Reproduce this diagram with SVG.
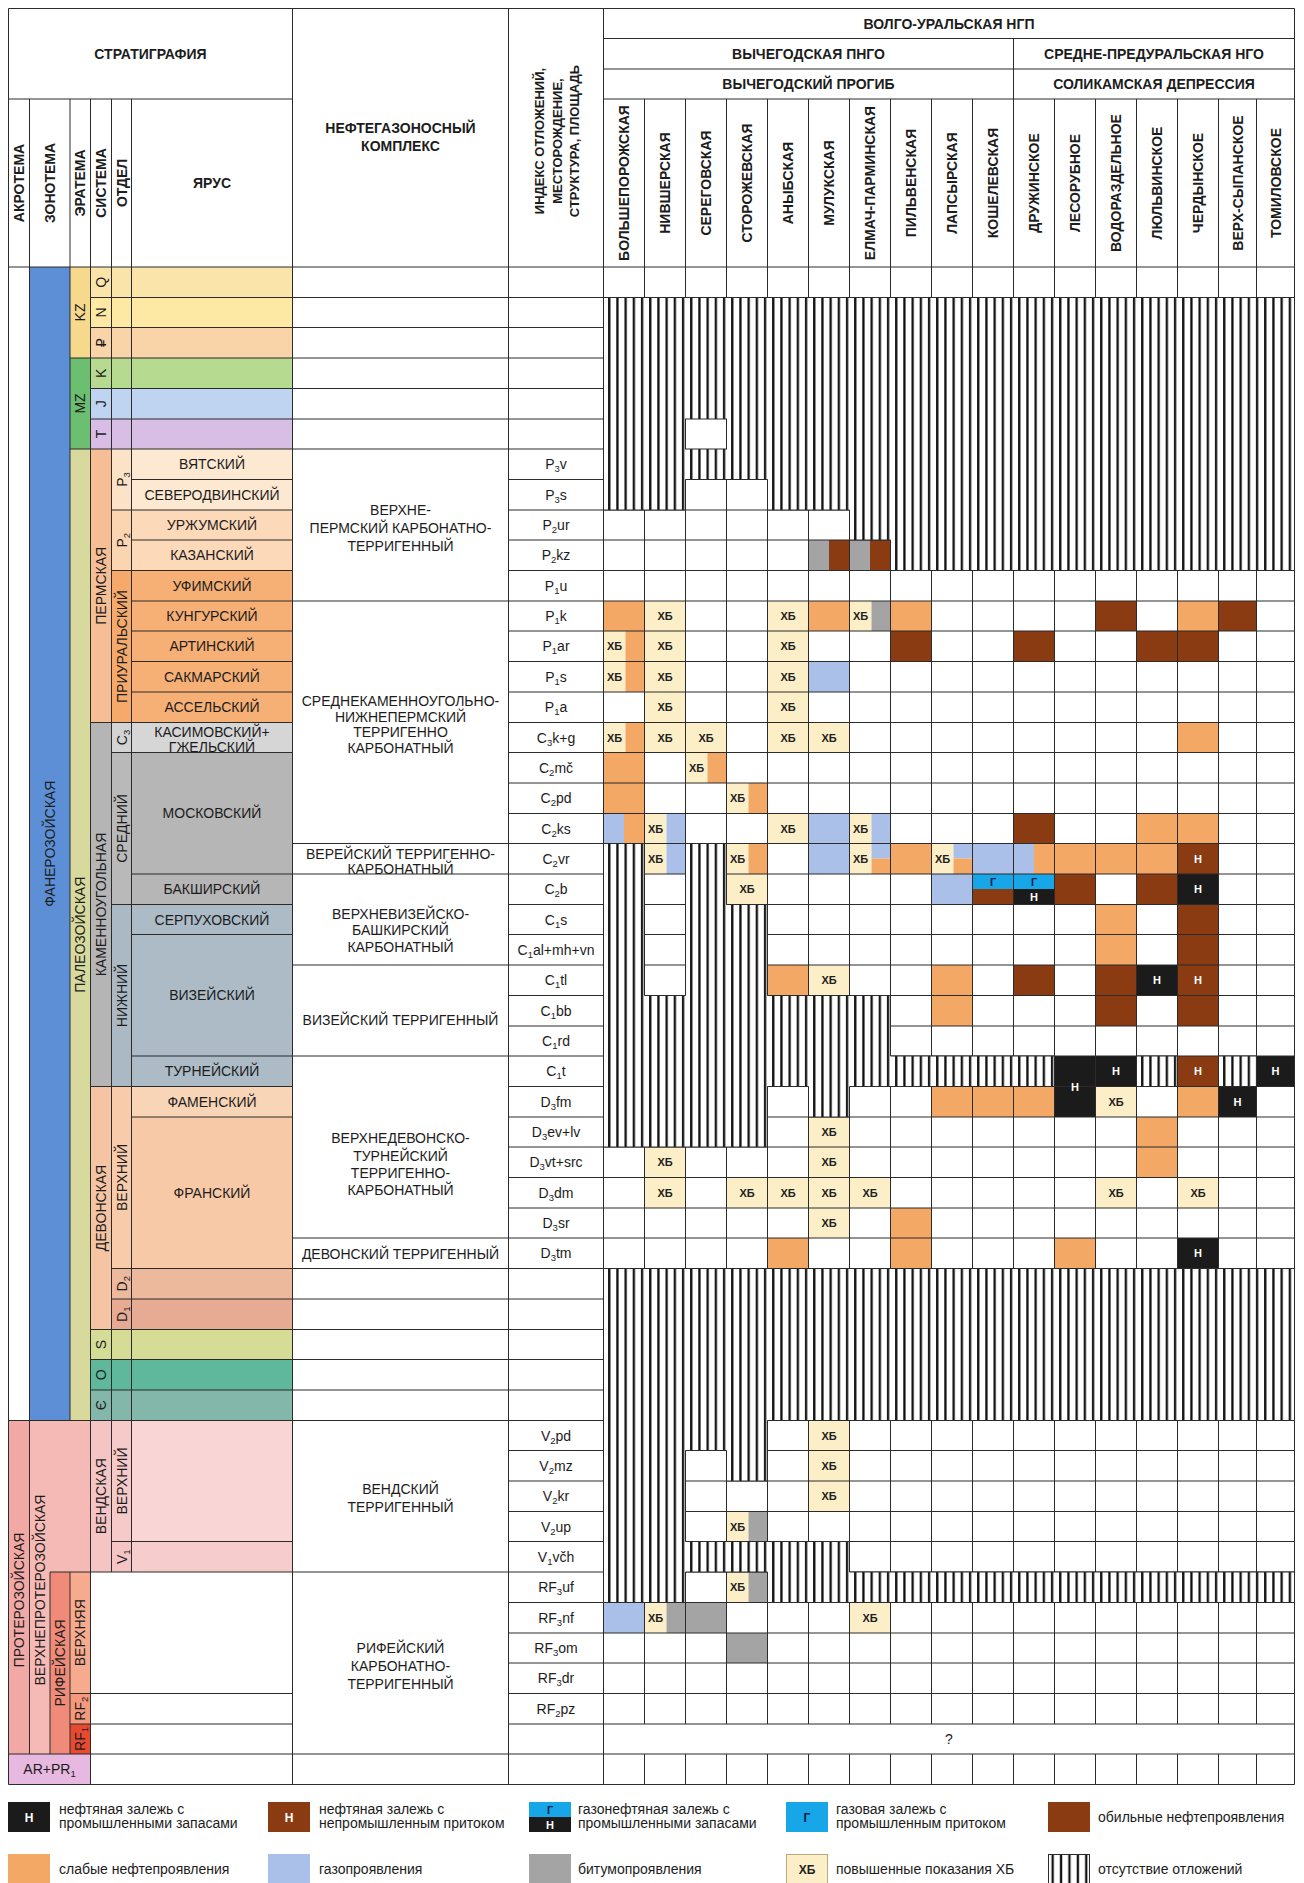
<svg xmlns="http://www.w3.org/2000/svg" width="1304" height="1883" viewBox="0 0 1304 1883">
<defs>
<style>
.t{font-family:"Liberation Sans",Arial,"DejaVu Sans",sans-serif;font-size:14px;fill:#1c1c1c}
.c{text-anchor:middle}
.bd{font-weight:bold}
.s{font-size:9.5px}
.xb{font-family:"Liberation Sans",Arial,sans-serif;font-size:11px;font-weight:bold;text-anchor:middle;fill:#222}
.nw{font-family:"Liberation Sans",Arial,sans-serif;font-size:11px;font-weight:bold;text-anchor:middle;fill:#fff}
.gd{font-family:"Liberation Sans",Arial,sans-serif;font-size:11px;font-weight:bold;text-anchor:middle;fill:#15204a}
.ln{fill:none;stroke:#2b2b2b;stroke-width:1}
.o{fill:#f4a865}.b{fill:#8b3b12}.k{fill:#1b1b1b}.l{fill:#aac0e9}.g{fill:#a4a4a4}.x{fill:#fcefc8}.cy{fill:#17a6e8}
.ht{fill:url(#hatch);stroke:#2b2b2b;stroke-width:1}
</style>
<pattern id="hatch" patternUnits="userSpaceOnUse" x="603.5" y="0" width="8.2" height="20"><rect width="8.2" height="20" fill="#fff"/><rect x="4.6" y="0" width="2.3" height="20" fill="#111"/></pattern>
<pattern id="hatchL" patternUnits="userSpaceOnUse" x="1048" y="0" width="8.4" height="20"><rect width="8.4" height="20" fill="#fff"/><rect x="3.5" y="0" width="2.3" height="20" fill="#111"/></pattern>
</defs>
<rect width="1304" height="1883" fill="#fff"/>

<g id="strat-fills">
<rect x="29.5" y="267" width="40.5" height="1153.5" fill="#5d8fd6"/>
<rect x="70" y="267" width="20.5" height="91" fill="#f6d98c"/>
<rect x="70" y="358" width="20.5" height="91" fill="#6cbf70"/>
<rect x="70" y="449" width="20.5" height="971.5" fill="#d7d99d"/>
<rect x="90.5" y="267" width="202" height="30.5" fill="#fae4a9"/>
<rect x="90.5" y="297.5" width="202" height="30" fill="#fde9a3"/>
<rect x="90.5" y="327.5" width="202" height="30.5" fill="#fad4a9"/>
<rect x="90.5" y="358" width="202" height="30.5" fill="#b6da90"/>
<rect x="90.5" y="388.5" width="202" height="30.5" fill="#bfd4f0"/>
<rect x="90.5" y="419" width="202" height="30" fill="#d8bde4"/>
<rect x="90.5" y="449" width="21" height="273.5" fill="#f5be94"/>
<rect x="111.5" y="449" width="20" height="61" fill="#fce2c6"/>
<rect x="111.5" y="510" width="20" height="60.5" fill="#fbd5b1"/>
<rect x="111.5" y="570.5" width="20" height="152" fill="#f5aa6c"/>
<rect x="131.5" y="449" width="161" height="61" fill="#fde8d2"/>
<rect x="131.5" y="510" width="161" height="60.5" fill="#fcd9b9"/>
<rect x="131.5" y="570.5" width="161" height="152" fill="#f6b075"/>
<rect x="90.5" y="722.5" width="21" height="364" fill="#b5b5b5"/>
<rect x="111.5" y="722.5" width="20" height="30" fill="#d3d3d3"/>
<rect x="131.5" y="722.5" width="161" height="30" fill="#d6d6d6"/>
<rect x="111.5" y="752.5" width="20" height="152" fill="#b9b9b9"/>
<rect x="131.5" y="752.5" width="161" height="152" fill="#b6b6b6"/>
<rect x="111.5" y="904.5" width="20" height="182" fill="#aab9c3"/>
<rect x="131.5" y="904.5" width="161" height="182" fill="#acbbc6"/>
<rect x="90.5" y="1086.5" width="21" height="243" fill="#f5c4a2"/>
<rect x="111.5" y="1086.5" width="20" height="182" fill="#f8cbab"/>
<rect x="131.5" y="1086.5" width="161" height="30.5" fill="#f9d5b7"/>
<rect x="131.5" y="1117" width="161" height="151.5" fill="#f8c9a7"/>
<rect x="111.5" y="1268.5" width="181" height="30.5" fill="#ecb99d"/>
<rect x="111.5" y="1299" width="181" height="30.5" fill="#e7aa92"/>
<rect x="90.5" y="1329.5" width="202" height="30" fill="#d4dc96"/>
<rect x="90.5" y="1359.5" width="202" height="30.5" fill="#5fb89c"/>
<rect x="90.5" y="1390" width="202" height="30.5" fill="#83b7a9"/>
<rect x="8.5" y="1420.5" width="21" height="333.5" fill="#f2a9a6"/>
<rect x="29.5" y="1420.5" width="61" height="151.5" fill="#f6bab6"/>
<rect x="29.5" y="1572" width="20.5" height="182" fill="#f6bab6"/>
<rect x="90.5" y="1420.5" width="21" height="151.5" fill="#f5c4c4"/>
<rect x="111.5" y="1420.5" width="20" height="121" fill="#f7caca"/>
<rect x="111.5" y="1541.5" width="20" height="30.5" fill="#f5c4c4"/>
<rect x="131.5" y="1420.5" width="161" height="121" fill="#f9d5d5"/>
<rect x="131.5" y="1541.5" width="161" height="30.5" fill="#f7cccc"/>
<rect x="50" y="1572" width="20" height="182" fill="#ef8b78"/>
<rect x="70" y="1572" width="20.5" height="121.5" fill="#f6aa8e"/>
<rect x="70" y="1693.5" width="20.5" height="30.5" fill="#f4997c"/>
<rect x="70" y="1724" width="20.5" height="30" fill="#e84a31"/>
<rect x="8.5" y="1754" width="82" height="30.5" fill="#e7b9e1"/>
</g>

<g id="cell-fills">
<rect class="g" x="808.5" y="540" width="20.5" height="30.5"/><rect class="b" x="829" y="540" width="20.5" height="30.5"/>
<rect class="g" x="849.5" y="540" width="20.5" height="30.5"/><rect class="b" x="870" y="540" width="20.5" height="30.5"/>
<rect class="o" x="603.5" y="601" width="41" height="30"/><rect class="x" x="644.5" y="601" width="41" height="30"/><rect class="x" x="767.5" y="601" width="41" height="30"/><rect class="o" x="808.5" y="601" width="41" height="30"/><rect class="x" x="849.5" y="601" width="22" height="30"/><rect class="g" x="871.5" y="601" width="19" height="30"/><rect class="o" x="890.5" y="601" width="41" height="30"/><rect class="b" x="1095.5" y="601" width="41" height="30"/><rect class="o" x="1177.5" y="601" width="41" height="30"/><rect class="b" x="1218.5" y="601" width="38" height="30"/>
<rect class="x" x="603.5" y="631" width="22" height="30.5"/><rect class="o" x="625.5" y="631" width="19" height="30.5"/><rect class="x" x="644.5" y="631" width="41" height="30.5"/><rect class="x" x="767.5" y="631" width="41" height="30.5"/><rect class="b" x="890.5" y="631" width="41" height="30.5"/><rect class="b" x="1013.5" y="631" width="41" height="30.5"/><rect class="b" x="1136.5" y="631" width="41" height="30.5"/><rect class="b" x="1177.5" y="631" width="41" height="30.5"/>
<rect class="x" x="603.5" y="661.5" width="22" height="30.5"/><rect class="o" x="625.5" y="661.5" width="19" height="30.5"/><rect class="x" x="644.5" y="661.5" width="41" height="30.5"/><rect class="x" x="767.5" y="661.5" width="41" height="30.5"/><rect class="l" x="808.5" y="661.5" width="41" height="30.5"/>
<rect class="x" x="644.5" y="692" width="41" height="30.5"/><rect class="x" x="767.5" y="692" width="41" height="30.5"/>
<rect class="x" x="603.5" y="722.5" width="22" height="30"/><rect class="o" x="625.5" y="722.5" width="19" height="30"/><rect class="x" x="644.5" y="722.5" width="41" height="30"/><rect class="x" x="685.5" y="722.5" width="41" height="30"/><rect class="x" x="767.5" y="722.5" width="41" height="30"/><rect class="x" x="808.5" y="722.5" width="41" height="30"/><rect class="o" x="1177.5" y="722.5" width="41" height="30"/>
<rect class="o" x="603.5" y="752.5" width="41" height="30.5"/><rect class="x" x="685.5" y="752.5" width="22" height="30.5"/><rect class="o" x="707.5" y="752.5" width="19" height="30.5"/>
<rect class="o" x="603.5" y="783" width="41" height="30.5"/><rect class="x" x="726.5" y="783" width="22" height="30.5"/><rect class="o" x="748.5" y="783" width="19" height="30.5"/>
<rect class="l" x="603.5" y="813.5" width="20.5" height="30"/><rect class="o" x="624" y="813.5" width="20.5" height="30"/><rect class="x" x="644.5" y="813.5" width="22" height="30"/><rect class="l" x="666.5" y="813.5" width="19" height="30"/><rect class="x" x="767.5" y="813.5" width="41" height="30"/><rect class="l" x="808.5" y="813.5" width="41" height="30"/><rect class="x" x="849.5" y="813.5" width="22" height="30"/><rect class="l" x="871.5" y="813.5" width="19" height="30"/><rect class="b" x="1013.5" y="813.5" width="41" height="30"/><rect class="o" x="1136.5" y="813.5" width="41" height="30"/><rect class="o" x="1177.5" y="813.5" width="41" height="30"/>
<rect class="x" x="644.5" y="843.5" width="22" height="30.5"/><rect class="l" x="666.5" y="843.5" width="19" height="30.5"/><rect class="x" x="726.5" y="843.5" width="22" height="30.5"/><rect class="o" x="748.5" y="843.5" width="19" height="30.5"/><rect class="l" x="808.5" y="843.5" width="41" height="30.5"/><rect class="x" x="849.5" y="843.5" width="22" height="30.5"/><rect class="l" x="871.5" y="843.5" width="19" height="15"/><rect class="o" x="871.5" y="858.5" width="19" height="15.5"/><rect class="o" x="890.5" y="843.5" width="41" height="30.5"/><rect class="x" x="931.5" y="843.5" width="22" height="30.5"/><rect class="l" x="953.5" y="843.5" width="19" height="15"/><rect class="o" x="953.5" y="858.5" width="19" height="15.5"/><rect class="l" x="972.5" y="843.5" width="41" height="30.5"/><rect class="l" x="1013.5" y="843.5" width="20.5" height="30.5"/><rect class="o" x="1034" y="843.5" width="20.5" height="30.5"/><rect class="o" x="1054.5" y="843.5" width="41" height="30.5"/><rect class="o" x="1095.5" y="843.5" width="41" height="30.5"/><rect class="o" x="1136.5" y="843.5" width="41" height="30.5"/><rect class="b" x="1177.5" y="843.5" width="41" height="30.5"/>
<rect class="x" x="726.5" y="874" width="41" height="30.5"/><rect class="l" x="931.5" y="874" width="41" height="30.5"/><rect class="cy" x="972.5" y="874" width="41" height="15"/><rect class="b" x="972.5" y="889" width="41" height="15.5"/><rect class="cy" x="1013.5" y="874" width="41" height="15"/><rect class="k" x="1013.5" y="889" width="41" height="15.5"/><rect class="b" x="1054.5" y="874" width="41" height="30.5"/><rect class="b" x="1136.5" y="874" width="41" height="30.5"/><rect class="k" x="1177.5" y="874" width="41" height="30.5"/>
<rect class="o" x="1095.5" y="904.5" width="41" height="30"/><rect class="b" x="1177.5" y="904.5" width="41" height="30"/>
<rect class="o" x="1095.5" y="934.5" width="41" height="30.5"/><rect class="b" x="1177.5" y="934.5" width="41" height="30.5"/>
<rect class="o" x="767.5" y="965" width="41" height="30.5"/><rect class="x" x="808.5" y="965" width="41" height="30.5"/><rect class="o" x="931.5" y="965" width="41" height="30.5"/><rect class="b" x="1013.5" y="965" width="41" height="30.5"/><rect class="b" x="1095.5" y="965" width="41" height="30.5"/><rect class="k" x="1136.5" y="965" width="41" height="30.5"/><rect class="b" x="1177.5" y="965" width="41" height="30.5"/>
<rect class="o" x="931.5" y="995.5" width="41" height="30.5"/><rect class="b" x="1095.5" y="995.5" width="41" height="30.5"/><rect class="b" x="1177.5" y="995.5" width="41" height="30.5"/>
<rect class="k" x="1054.5" y="1056" width="41" height="61"/><rect class="k" x="1095.5" y="1056" width="41" height="30.5"/><rect class="b" x="1177.5" y="1056" width="41" height="30.5"/><rect class="k" x="1256.5" y="1056" width="38" height="30.5"/>
<rect class="o" x="931.5" y="1086.5" width="41" height="30.5"/><rect class="o" x="972.5" y="1086.5" width="41" height="30.5"/><rect class="o" x="1013.5" y="1086.5" width="41" height="30.5"/><rect class="x" x="1095.5" y="1086.5" width="41" height="30.5"/><rect class="o" x="1177.5" y="1086.5" width="41" height="30.5"/><rect class="k" x="1218.5" y="1086.5" width="38" height="30.5"/>
<rect class="x" x="808.5" y="1117" width="41" height="30"/><rect class="o" x="1136.5" y="1117" width="41" height="30"/>
<rect class="x" x="644.5" y="1147" width="41" height="30.5"/><rect class="x" x="808.5" y="1147" width="41" height="30.5"/><rect class="o" x="1136.5" y="1147" width="41" height="30.5"/>
<rect class="x" x="644.5" y="1177.5" width="41" height="30.5"/><rect class="x" x="726.5" y="1177.5" width="41" height="30.5"/><rect class="x" x="767.5" y="1177.5" width="41" height="30.5"/><rect class="x" x="808.5" y="1177.5" width="41" height="30.5"/><rect class="x" x="849.5" y="1177.5" width="41" height="30.5"/><rect class="x" x="1095.5" y="1177.5" width="41" height="30.5"/><rect class="x" x="1177.5" y="1177.5" width="41" height="30.5"/>
<rect class="x" x="808.5" y="1208" width="41" height="30"/><rect class="o" x="890.5" y="1208" width="41" height="30"/>
<rect class="o" x="767.5" y="1238" width="41" height="30.5"/><rect class="o" x="890.5" y="1238" width="41" height="30.5"/><rect class="o" x="1054.5" y="1238" width="41" height="30.5"/><rect class="k" x="1177.5" y="1238" width="41" height="30.5"/>
<rect class="x" x="808.5" y="1420.5" width="41" height="30"/><rect class="x" x="808.5" y="1450.5" width="41" height="30.5"/><rect class="x" x="808.5" y="1481" width="41" height="30.5"/>
<rect class="x" x="726.5" y="1511.5" width="22" height="30"/><rect class="g" x="748.5" y="1511.5" width="19" height="30"/>
<rect class="x" x="726.5" y="1572" width="22" height="30.5"/><rect class="g" x="748.5" y="1572" width="19" height="30.5"/>
<rect class="l" x="603.5" y="1602.5" width="41" height="30.5"/><rect class="x" x="644.5" y="1602.5" width="22" height="30.5"/><rect class="g" x="666.5" y="1602.5" width="19" height="30.5"/><rect class="g" x="685.5" y="1602.5" width="41" height="30.5"/><rect class="x" x="849.5" y="1602.5" width="41" height="30.5"/>
<rect class="g" x="726.5" y="1633" width="41" height="30"/>
</g>

<g id="grid">
<path class="ln" d="M8.5 8.5H1294.5M8.5 99H292.5M603.5 38.5H1294.5M603.5 69H1294.5M603.5 99H1294.5M8.5 267H1294.5
M90.5 297.5H1294.5M90.5 327.5H1294.5M70 358H1294.5M90.5 388.5H1294.5M90.5 419H1294.5M70 449H1294.5
M131.5 479.5H292.5M508.5 479.5H1294.5M111.5 510H292.5M508.5 510H1294.5M131.5 540H292.5M508.5 540H1294.5M111.5 570.5H292.5M508.5 570.5H1294.5
M131.5 601H1294.5M131.5 631H292.5M508.5 631H1294.5M131.5 661.5H292.5M508.5 661.5H1294.5M131.5 692H292.5M508.5 692H1294.5
M90.5 722.5H292.5M508.5 722.5H1294.5M111.5 752.5H292.5M508.5 752.5H1294.5M508.5 783H1294.5M508.5 813.5H1294.5
M292.5 843.5H1294.5M131.5 874H1294.5M111.5 904.5H292.5M508.5 904.5H1294.5M131.5 934.5H292.5M508.5 934.5H1294.5
M292.5 965H1294.5M508.5 995.5H1294.5M508.5 1026H1294.5M131.5 1056H1294.5M90.5 1086.5H292.5M508.5 1086.5H1294.5
M131.5 1117H292.5M508.5 1117H1294.5M508.5 1147H1294.5M508.5 1177.5H1294.5M508.5 1208H1294.5M292.5 1238H1294.5
M111.5 1268.5H1294.5M111.5 1299H1294.5M90.5 1329.5H1294.5M90.5 1359.5H1294.5M90.5 1390H1294.5M8.5 1420.5H1294.5
M508.5 1450.5H1294.5M508.5 1481H1294.5M508.5 1511.5H1294.5M111.5 1541.5H292.5M508.5 1541.5H1294.5M50 1572H1294.5
M508.5 1602.5H1294.5M508.5 1633H1294.5M508.5 1663H1294.5M70 1693.5H292.5M508.5 1693.5H1294.5M70 1724H292.5M508.5 1724H1294.5
M8.5 1754H1294.5M8.5 1784.5H1294.5
M8.5 8.5V1784.5M29.5 99V1754M50 1572V1754M70 99V1420.5M70 1572V1754M90.5 99V1784.5M111.5 99V1572M131.5 99V1572
M292.5 8.5V1784.5M508.5 8.5V1784.5M603.5 8.5V1784.5M1294.5 8.5V1784.5
M644.5 99V1724M685.5 99V1724M726.5 99V1724M767.5 99V1724M808.5 99V1724M849.5 99V1724M890.5 99V1724M931.5 99V1724M972.5 99V1724M1013.5 38.5V1724M1054.5 99V1724M1095.5 99V1724M1136.5 99V1724M1177.5 99V1724M1218.5 99V1724M1256.5 99V1724
M644.5 1754V1784.5M685.5 1754V1784.5M726.5 1754V1784.5M767.5 1754V1784.5M808.5 1754V1784.5M849.5 1754V1784.5M890.5 1754V1784.5M931.5 1754V1784.5M972.5 1754V1784.5M1013.5 1754V1784.5M1054.5 1754V1784.5M1095.5 1754V1784.5M1136.5 1754V1784.5M1177.5 1754V1784.5M1218.5 1754V1784.5M1256.5 1754V1784.5"/>
</g>

<g id="absent-deposits">
<polygon class="ht" points="603.5,297.5 1294.5,297.5 1294.5,570.5 890.5,570.5 890.5,540 849.5,540 849.5,510 767.5,510 767.5,479.5 685.5,479.5 685.5,510 603.5,510"/>
<rect x="685.5" y="419" width="41" height="30" fill="#fff" stroke="#2b2b2b" stroke-width="1"/>
<polygon class="ht" points="603.5,843.5 644.5,843.5 644.5,995.5 685.5,995.5 685.5,843.5 726.5,843.5 726.5,904.5 767.5,904.5 767.5,995.5 890.5,995.5 890.5,1056 1054.5,1056 1054.5,1086.5 849.5,1086.5 849.5,1117 808.5,1117 808.5,1086.5 767.5,1086.5 767.5,1147 603.5,1147"/>
<rect class="ht" x="1136.5" y="1056" width="41" height="30.5"/>
<rect class="ht" x="1218.5" y="1056" width="38" height="30.5"/>
<polygon class="ht" points="603.5,1268.5 1294.5,1268.5 1294.5,1420.5 767.5,1420.5 767.5,1481 726.5,1481 726.5,1450.5 685.5,1450.5 685.5,1541.5 849.5,1541.5 849.5,1572 1294.5,1572 1294.5,1602.5 767.5,1602.5 767.5,1572 685.5,1572 685.5,1602.5 603.5,1602.5"/>
</g>

<g id="header-text" class="t c bd">
<text x="150.5" y="59">СТРАТИГРАФИЯ</text>
<text transform="translate(24 183) rotate(-90)">АКРОТЕМА</text>
<text transform="translate(54.75 183) rotate(-90)">ЗОНОТЕМА</text>
<text transform="translate(85.25 183) rotate(-90)">ЭРАТЕМА</text>
<text transform="translate(106 183) rotate(-90)">СИСТЕМА</text>
<text transform="translate(126.5 183) rotate(-90)">ОТДЕЛ</text>
<text x="212" y="188">ЯРУС</text>
<text x="400.5" y="133">НЕФТЕГАЗОНОСНЫЙ</text>
<text x="400.5" y="151">КОМПЛЕКС</text>
<text transform="translate(544 141) rotate(-90)" style="font-size:13px">ИНДЕКС ОТЛОЖЕНИЙ,</text>
<text transform="translate(561.5 141) rotate(-90)" style="font-size:13px">МЕСТОРОЖДЕНИЕ,</text>
<text transform="translate(579 141) rotate(-90)" style="font-size:13px">СТРУКТУРА, ПЛОЩАДЬ</text>
<text x="949" y="28.5">ВОЛГО-УРАЛЬСКАЯ НГП</text>
<text x="808.5" y="58.75">ВЫЧЕГОДСКАЯ ПНГО</text>
<text x="1154" y="58.75">СРЕДНЕ-ПРЕДУРАЛЬСКАЯ НГО</text>
<text x="808.5" y="89">ВЫЧЕГОДСКИЙ ПРОГИБ</text>
<text x="1154" y="89">СОЛИКАМСКАЯ ДЕПРЕССИЯ</text>
<text transform="translate(629 183) rotate(-90)">БОЛЬШЕПОРОЖСКАЯ</text>
<text transform="translate(670 183) rotate(-90)">НИВШЕРСКАЯ</text>
<text transform="translate(711 183) rotate(-90)">СЕРЕГОВСКАЯ</text>
<text transform="translate(752 183) rotate(-90)">СТОРОЖЕВСКАЯ</text>
<text transform="translate(793 183) rotate(-90)">АНЫБСКАЯ</text>
<text transform="translate(834 183) rotate(-90)">МУЛУКСКАЯ</text>
<text transform="translate(875 183) rotate(-90)">ЕЛМАЧ-ПАРМИНСКАЯ</text>
<text transform="translate(916 183) rotate(-90)">ПИЛЬВЕНСКАЯ</text>
<text transform="translate(957 183) rotate(-90)">ЛАПСЫРСКАЯ</text>
<text transform="translate(998 183) rotate(-90)">КОШЕЛЕВСКАЯ</text>
<text transform="translate(1039 183) rotate(-90)">ДРУЖИНСКОЕ</text>
<text transform="translate(1080 183) rotate(-90)">ЛЕСОРУБНОЕ</text>
<text transform="translate(1121 183) rotate(-90)">ВОДОРАЗДЕЛЬНОЕ</text>
<text transform="translate(1162 183) rotate(-90)">ЛЮЛЬВИНСКОЕ</text>
<text transform="translate(1203 183) rotate(-90)">ЧЕРДЫНСКОЕ</text>
<text transform="translate(1242.5 183) rotate(-90)">ВЕРХ-СЫПАНСКОЕ</text>
<text transform="translate(1280.5 183) rotate(-90)">ТОМИЛОВСКОЕ</text>
</g>

<g id="strat-text" class="t c">
<text transform="translate(54.75 843.75) rotate(-90)">ФАНЕРОЗОЙСКАЯ</text>
<text transform="translate(85.25 312.5) rotate(-90)">KZ</text>
<text transform="translate(85.25 403.5) rotate(-90)">MZ</text>
<text transform="translate(85.25 934.75) rotate(-90)">ПАЛЕОЗОЙСКАЯ</text>
<text transform="translate(106 282.25) rotate(-90)">Q</text>
<text transform="translate(106 312.5) rotate(-90)">N</text>
<text transform="translate(106 342.75) rotate(-90)">₽</text>
<text transform="translate(106 373.25) rotate(-90)">K</text>
<text transform="translate(106 403.75) rotate(-90)">J</text>
<text transform="translate(106 434) rotate(-90)">T</text>
<text transform="translate(106 585.75) rotate(-90)">ПЕРМСКАЯ</text>
<text transform="translate(126.5 479.5) rotate(-90)">P<tspan class="s" dy="3">3</tspan></text>
<text transform="translate(126.5 540.25) rotate(-90)">P<tspan class="s" dy="3">2</tspan></text>
<text transform="translate(126.5 646.5) rotate(-90)">ПРИУРАЛЬСКИЙ</text>
<text transform="translate(106 904.5) rotate(-90)">КАМЕННОУГОЛЬНАЯ</text>
<text transform="translate(126.5 737.5) rotate(-90)">C<tspan class="s" dy="3">3</tspan></text>
<text transform="translate(126.5 828.5) rotate(-90)">СРЕДНИЙ</text>
<text transform="translate(126.5 995.5) rotate(-90)">НИЖНИЙ</text>
<text transform="translate(106 1208) rotate(-90)">ДЕВОНСКАЯ</text>
<text transform="translate(126.5 1177.5) rotate(-90)">ВЕРХНИЙ</text>
<text transform="translate(126.5 1283.75) rotate(-90)">D<tspan class="s" dy="3">2</tspan></text>
<text transform="translate(126.5 1314.25) rotate(-90)">D<tspan class="s" dy="3">1</tspan></text>
<text transform="translate(106 1344.5) rotate(-90)">S</text>
<text transform="translate(106 1374.75) rotate(-90)">O</text>
<text transform="translate(106 1405.25) rotate(-90)">Є</text>
<text transform="translate(106 1496.25) rotate(-90)">ВЕНДСКАЯ</text>
<text transform="translate(126.5 1481) rotate(-90)">ВЕРХНИЙ</text>
<text transform="translate(126.5 1556.75) rotate(-90)">V<tspan class="s" dy="3">1</tspan></text>
<text transform="translate(24 1600) rotate(-90)">ПРОТЕРОЗОЙСКАЯ</text>
<text transform="translate(44.75 1590) rotate(-90)">ВЕРХНЕПРОТЕРОЗОЙСКАЯ</text>
<text transform="translate(65 1663) rotate(-90)">РИФЕЙСКАЯ</text>
<text transform="translate(85.25 1632.75) rotate(-90)">ВЕРХНЯЯ</text>
<text transform="translate(85.25 1708.75) rotate(-90)">RF<tspan class="s" dy="3">2</tspan></text>
<text transform="translate(85.25 1739) rotate(-90)">RF<tspan class="s" dy="3">1</tspan></text>
<text x="49.5" y="1774">AR+PR<tspan class="s" dy="3">1</tspan></text>

<text x="212" y="469.25">ВЯТСКИЙ</text>
<text x="212" y="499.75">СЕВЕРОДВИНСКИЙ</text>
<text x="212" y="530">УРЖУМСКИЙ</text>
<text x="212" y="560.25">КАЗАНСКИЙ</text>
<text x="212" y="590.75">УФИМСКИЙ</text>
<text x="212" y="621">КУНГУРСКИЙ</text>
<text x="212" y="651.25">АРТИНСКИЙ</text>
<text x="212" y="681.75">САКМАРСКИЙ</text>
<text x="212" y="712.25">АССЕЛЬСКИЙ</text>
<text x="212" y="737">КАСИМОВСКИЙ+</text>
<text x="212" y="752">ГЖЕЛЬСКИЙ</text>
<text x="212" y="818.25">МОСКОВСКИЙ</text>
<text x="212" y="894.25">БАКШИРСКИЙ</text>
<text x="212" y="924.5">СЕРПУХОВСКИЙ</text>
<text x="212" y="1000.25">ВИЗЕЙСКИЙ</text>
<text x="212" y="1076.25">ТУРНЕЙСКИЙ</text>
<text x="212" y="1106.75">ФАМЕНСКИЙ</text>
<text x="212" y="1197.75">ФРАНСКИЙ</text>

<text x="400.5" y="515">ВЕРХНЕ-</text>
<text x="400.5" y="533">ПЕРМСКИЙ КАРБОНАТНО-</text>
<text x="400.5" y="550.5">ТЕРРИГЕННЫЙ</text>
<text x="400.5" y="706">СРЕДНЕКАМЕННОУГОЛЬНО-</text>
<text x="400.5" y="721.5">НИЖНЕПЕРМСКИЙ</text>
<text x="400.5" y="737">ТЕРРИГЕННО</text>
<text x="400.5" y="752.5">КАРБОНАТНЫЙ</text>
<text x="400.5" y="859">ВЕРЕЙСКИЙ ТЕРРИГЕННО-</text>
<text x="400.5" y="873.5">КАРБОНАТНЫЙ</text>
<text x="400.5" y="918.5">ВЕРХНЕВИЗЕЙСКО-</text>
<text x="400.5" y="935">БАШКИРСКИЙ</text>
<text x="400.5" y="952">КАРБОНАТНЫЙ</text>
<text x="400.5" y="1025">ВИЗЕЙСКИЙ ТЕРРИГЕННЫЙ</text>
<text x="400.5" y="1143">ВЕРХНЕДЕВОНСКО-</text>
<text x="400.5" y="1160.5">ТУРНЕЙСКИЙ</text>
<text x="400.5" y="1178">ТЕРРИГЕННО-</text>
<text x="400.5" y="1195">КАРБОНАТНЫЙ</text>
<text x="400.5" y="1258.5">ДЕВОНСКИЙ ТЕРРИГЕННЫЙ</text>
<text x="400.5" y="1493.5">ВЕНДСКИЙ</text>
<text x="400.5" y="1511.5">ТЕРРИГЕННЫЙ</text>
<text x="400.5" y="1653">РИФЕЙСКИЙ</text>
<text x="400.5" y="1671">КАРБОНАТНО-</text>
<text x="400.5" y="1688.5">ТЕРРИГЕННЫЙ</text>

<text x="556" y="469.25">P<tspan class="s" dy="3">3</tspan><tspan dy="-3">v</tspan></text>
<text x="556" y="499.75">P<tspan class="s" dy="3">3</tspan><tspan dy="-3">s</tspan></text>
<text x="556" y="530">P<tspan class="s" dy="3">2</tspan><tspan dy="-3">ur</tspan></text>
<text x="556" y="560.25">P<tspan class="s" dy="3">2</tspan><tspan dy="-3">kz</tspan></text>
<text x="556" y="590.75">P<tspan class="s" dy="3">1</tspan><tspan dy="-3">u</tspan></text>
<text x="556" y="621">P<tspan class="s" dy="3">1</tspan><tspan dy="-3">k</tspan></text>
<text x="556" y="651.25">P<tspan class="s" dy="3">1</tspan><tspan dy="-3">ar</tspan></text>
<text x="556" y="681.75">P<tspan class="s" dy="3">1</tspan><tspan dy="-3">s</tspan></text>
<text x="556" y="712.25">P<tspan class="s" dy="3">1</tspan><tspan dy="-3">a</tspan></text>
<text x="556" y="742.5">C<tspan class="s" dy="3">3</tspan><tspan dy="-3">k+g</tspan></text>
<text x="556" y="772.75">C<tspan class="s" dy="3">2</tspan><tspan dy="-3">mč</tspan></text>
<text x="556" y="803.25">C<tspan class="s" dy="3">2</tspan><tspan dy="-3">pd</tspan></text>
<text x="556" y="833.5">C<tspan class="s" dy="3">2</tspan><tspan dy="-3">ks</tspan></text>
<text x="556" y="863.75">C<tspan class="s" dy="3">2</tspan><tspan dy="-3">vr</tspan></text>
<text x="556" y="894.25">C<tspan class="s" dy="3">2</tspan><tspan dy="-3">b</tspan></text>
<text x="556" y="924.5">C<tspan class="s" dy="3">1</tspan><tspan dy="-3">s</tspan></text>
<text x="556" y="954.75">C<tspan class="s" dy="3">1</tspan><tspan dy="-3">al+mh+vn</tspan></text>
<text x="556" y="985.25">C<tspan class="s" dy="3">1</tspan><tspan dy="-3">tl</tspan></text>
<text x="556" y="1015.75">C<tspan class="s" dy="3">1</tspan><tspan dy="-3">bb</tspan></text>
<text x="556" y="1046">C<tspan class="s" dy="3">1</tspan><tspan dy="-3">rd</tspan></text>
<text x="556" y="1076.25">C<tspan class="s" dy="3">1</tspan><tspan dy="-3">t</tspan></text>
<text x="556" y="1106.75">D<tspan class="s" dy="3">3</tspan><tspan dy="-3">fm</tspan></text>
<text x="556" y="1137">D<tspan class="s" dy="3">3</tspan><tspan dy="-3">ev+lv</tspan></text>
<text x="556" y="1167.25">D<tspan class="s" dy="3">3</tspan><tspan dy="-3">vt+src</tspan></text>
<text x="556" y="1197.75">D<tspan class="s" dy="3">3</tspan><tspan dy="-3">dm</tspan></text>
<text x="556" y="1228">D<tspan class="s" dy="3">3</tspan><tspan dy="-3">sr</tspan></text>
<text x="556" y="1258.25">D<tspan class="s" dy="3">3</tspan><tspan dy="-3">tm</tspan></text>
<text x="556" y="1440.5">V<tspan class="s" dy="3">2</tspan><tspan dy="-3">pd</tspan></text>
<text x="556" y="1470.75">V<tspan class="s" dy="3">2</tspan><tspan dy="-3">mz</tspan></text>
<text x="556" y="1501.25">V<tspan class="s" dy="3">2</tspan><tspan dy="-3">kr</tspan></text>
<text x="556" y="1531.5">V<tspan class="s" dy="3">2</tspan><tspan dy="-3">up</tspan></text>
<text x="556" y="1561.75">V<tspan class="s" dy="3">1</tspan><tspan dy="-3">včh</tspan></text>
<text x="556" y="1592.25">RF<tspan class="s" dy="3">3</tspan><tspan dy="-3">uf</tspan></text>
<text x="556" y="1622.75">RF<tspan class="s" dy="3">3</tspan><tspan dy="-3">nf</tspan></text>
<text x="556" y="1653">RF<tspan class="s" dy="3">3</tspan><tspan dy="-3">om</tspan></text>
<text x="556" y="1683.25">RF<tspan class="s" dy="3">3</tspan><tspan dy="-3">dr</tspan></text>
<text x="556" y="1713.75">RF<tspan class="s" dy="3">2</tspan><tspan dy="-3">pz</tspan></text>
<text x="949" y="1744">?</text>
</g>

<g id="cell-labels">
<text class="xb" x="665" y="620">ХБ</text><text class="xb" x="788" y="620">ХБ</text><text class="xb" x="860.5" y="620">ХБ</text>
<text class="xb" x="614.5" y="650.25">ХБ</text><text class="xb" x="665" y="650.25">ХБ</text><text class="xb" x="788" y="650.25">ХБ</text>
<text class="xb" x="614.5" y="680.75">ХБ</text><text class="xb" x="665" y="680.75">ХБ</text><text class="xb" x="788" y="680.75">ХБ</text>
<text class="xb" x="665" y="711.25">ХБ</text><text class="xb" x="788" y="711.25">ХБ</text>
<text class="xb" x="614.5" y="741.5">ХБ</text><text class="xb" x="665" y="741.5">ХБ</text><text class="xb" x="706" y="741.5">ХБ</text><text class="xb" x="788" y="741.5">ХБ</text><text class="xb" x="829" y="741.5">ХБ</text>
<text class="xb" x="696.5" y="771.75">ХБ</text>
<text class="xb" x="737.5" y="802.25">ХБ</text>
<text class="xb" x="655.5" y="832.5">ХБ</text><text class="xb" x="788" y="832.5">ХБ</text><text class="xb" x="860.5" y="832.5">ХБ</text>
<text class="xb" x="655.5" y="862.75">ХБ</text><text class="xb" x="737.5" y="862.75">ХБ</text><text class="xb" x="860.5" y="862.75">ХБ</text><text class="xb" x="942.5" y="862.75">ХБ</text>
<text class="xb" x="747" y="893.25">ХБ</text>
<text class="xb" x="829" y="984.25">ХБ</text>
<text class="xb" x="1116" y="1105.75">ХБ</text>
<text class="xb" x="829" y="1136">ХБ</text>
<text class="xb" x="665" y="1166.25">ХБ</text><text class="xb" x="829" y="1166.25">ХБ</text>
<text class="xb" x="665" y="1196.75">ХБ</text><text class="xb" x="747" y="1196.75">ХБ</text><text class="xb" x="788" y="1196.75">ХБ</text><text class="xb" x="829" y="1196.75">ХБ</text><text class="xb" x="870" y="1196.75">ХБ</text><text class="xb" x="1116" y="1196.75">ХБ</text><text class="xb" x="1198" y="1196.75">ХБ</text>
<text class="xb" x="829" y="1227">ХБ</text>
<text class="xb" x="829" y="1439.5">ХБ</text><text class="xb" x="829" y="1469.75">ХБ</text><text class="xb" x="829" y="1500.25">ХБ</text>
<text class="xb" x="737.5" y="1530.5">ХБ</text>
<text class="xb" x="737.5" y="1591.25">ХБ</text>
<text class="xb" x="655.5" y="1621.75">ХБ</text><text class="xb" x="870" y="1621.75">ХБ</text>
<text class="nw" x="1198" y="862.75">Н</text>
<text class="gd" x="993" y="885.5">Г</text><text class="gd" x="1034" y="885.5">Г</text>
<text class="nw" x="1034" y="900.5">Н</text><text class="nw" x="1198" y="893.25">Н</text>
<text class="nw" x="1157" y="984.25">Н</text><text class="nw" x="1198" y="984.25">Н</text>
<text class="nw" x="1075" y="1090.5">Н</text><text class="nw" x="1116" y="1075.25">Н</text><text class="nw" x="1198" y="1075.25">Н</text><text class="nw" x="1275.5" y="1075.25">Н</text>
<text class="nw" x="1237.5" y="1105.75">Н</text>
<text class="nw" x="1198" y="1257.25">Н</text>
</g>

<g id="legend">
<g id="lg-oil-ind"><rect class="k" x="8" y="1802" width="42" height="30"/><text class="nw" x="29" y="1821.5" style="font-size:12px">Н</text>
<text class="t" x="59" y="1813.5">нефтяная залежь с</text><text class="t" x="59" y="1828">промышленными запасами</text></g>
<g id="lg-oil-non"><rect class="b" x="268" y="1802" width="42" height="30"/><text class="nw" x="289" y="1821.5" style="font-size:12px">Н</text>
<text class="t" x="319" y="1813.5">нефтяная залежь с</text><text class="t" x="319" y="1828">непромышленным притоком</text></g>
<g id="lg-gasoil"><rect class="cy" x="529" y="1802" width="42" height="15"/><rect class="k" x="529" y="1817" width="42" height="15"/><text class="gd" x="550" y="1813.5">Г</text><text class="nw" x="550" y="1828.5">Н</text>
<text class="t" x="578" y="1813.5">газонефтяная залежь с</text><text class="t" x="578" y="1828">промышленными запасами</text></g>
<g id="lg-gas"><rect class="cy" x="786" y="1802" width="42" height="30"/><text class="gd" x="807" y="1821.5" style="font-size:12px">Г</text>
<text class="t" x="836" y="1813.5">газовая залежь с</text><text class="t" x="836" y="1828">промышленным притоком</text></g>
<g id="lg-rich"><rect class="b" x="1048" y="1802" width="42" height="30"/><text class="t" x="1098" y="1822">обильные нефтепроявления</text></g>
<g id="lg-weak"><rect class="o" x="8" y="1854" width="42" height="30"/><text class="t" x="59" y="1874">слабые нефтепроявления</text></g>
<g id="lg-gasshow"><rect class="l" x="268" y="1854" width="42" height="30"/><text class="t" x="319" y="1874">газопроявления</text></g>
<g id="lg-bitum"><rect class="g" x="529" y="1854" width="42" height="30"/><text class="t" x="578" y="1874">битумопроявления</text></g>
<g id="lg-xb"><rect class="x" x="786.5" y="1854.5" width="41" height="30" stroke="#b9a97c" stroke-width="1"/><text class="xb" x="807" y="1874" style="font-size:12px">ХБ</text><text class="t" x="836" y="1874">повышенные показания ХБ</text></g>
<g id="lg-absent"><rect x="1048.5" y="1854.5" width="41" height="30" fill="url(#hatchL)" stroke="#2b2b2b" stroke-width="1"/><text class="t" x="1098" y="1874">отсутствие отложений</text></g>
</g>
</svg>
